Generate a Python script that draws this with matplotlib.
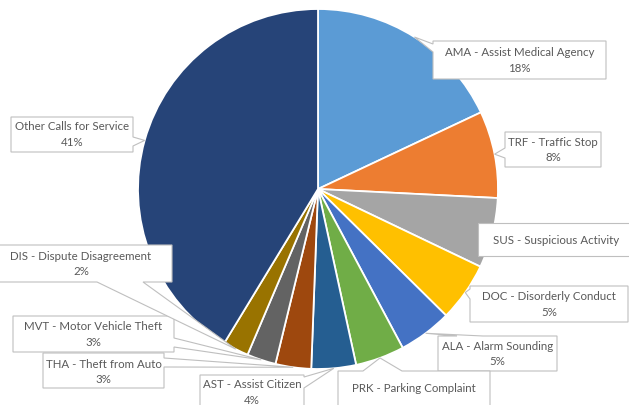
import numpy as np
import matplotlib
matplotlib.use("Agg")
import matplotlib.pyplot as plt
from matplotlib.patches import Polygon

# ---- data ----
categories = ["AMA - Assist Medical Agency", "TRF - Traffic Stop", "SUS - Suspicious Activity",
              "DOC - Disorderly Conduct", "ALA - Alarm Sounding", "PRK - Parking Complaint",
              "AST - Assist Citizen", "THA - Theft from Auto", "MVT - Motor Vehicle Theft",
              "DIS - Dispute Disagreement", "Other Calls for Service"]
values = [18.0, 7.8, 6.3, 5.3, 4.8, 4.4, 4.0, 3.2, 2.6, 2.3, 41.3]
colors = ["#5B9BD5", "#ED7D31", "#A5A5A5", "#FFC000", "#4472C4", "#70AD47",
          "#255E91", "#9E480E", "#636363", "#997300", "#264478"]

W, H = 629, 405
fig = plt.figure(figsize=(W / 100, H / 100), dpi=100)
ax = fig.add_axes([0, 0, 1, 1])

cx, cy, R = 318, 189, 180  # pixel coords (y from top)
ax.pie(values, colors=colors, startangle=90, counterclock=False,
       center=(cx, H - cy), radius=R, frame=True,
       wedgeprops=dict(edgecolor="white", linewidth=1.3))
ax.set_xlim(0, W)
ax.set_ylim(0, H)
ax.axis("off")

total = sum(values)
cum = np.cumsum([0] + values)
def apex(i):
    frac = (cum[i] + values[i] / 2) / total
    a = np.deg2rad(frac * 360)
    return cx + R * np.sin(a), cy - R * np.cos(a)

# label layout: box (x0, y0, x1, y1) in pixels from top, wedge side, wedge base, first-line y
layout = [
    ((433, 41, 606, 79), "left", (44, 52), 53),
    ((505, 132, 601, 167), "left", (148, 158), 142),
    ((478, 223, 640, 256), None, None, 240),
    ((470, 286, 628, 322), "left", (289, 299), 297),
    ((438, 336, 557, 371), "top", (457, 483), 346),
    ((338, 371, 490, 420), "top", (363, 402), 389),
    ((200, 375, 304, 420), "right", (377, 388), 385),
    ((43, 353, 164, 388), "right", (358, 367), 364),
    ((13, 316, 174, 352), "right", (338, 347), 327),
    ((-10, 245, 172, 282), "bottom", (97, 143), 256),
    ((11, 117, 133, 152), "right", (137, 146), 127),
]
# labels whose percentage line is not visible in the frame
no_pct = {2, 5}

def poly(box, side, base, ap):
    x0, y0, x1, y1 = box
    if side == "left":
        v = [(x0, y0), (x1, y0), (x1, y1), (x0, y1), (x0, base[1]), ap, (x0, base[0])]
    elif side == "right":
        v = [(x0, y0), (x1, y0), (x1, base[0]), ap, (x1, base[1]), (x1, y1), (x0, y1)]
    elif side == "top":
        v = [(x0, y0), (base[0], y0), ap, (base[1], y0), (x1, y0), (x1, y1), (x0, y1)]
    elif side == "bottom":
        v = [(x0, y0), (x1, y0), (x1, y1), (base[1], y1), ap, (base[0], y1), (x0, y1)]
    else:
        v = [(x0, y0), (x1, y0), (x1, y1), (x0, y1)]
    return [(x, H - y) for x, y in v]

fnt = dict(family="Lato", fontsize=8.3, color="#595959")
for i, (box, side, base, ty) in enumerate(layout):
    ap = apex(i)
    ax.add_patch(Polygon(poly(box, side, base, ap), closed=True, facecolor="white",
                         edgecolor="#BFBFBF", linewidth=0.8, zorder=5))
    x0, y0, x1, y1 = box
    if i == 2:
        ax.text(493, H - ty, categories[i], ha="left", va="center", zorder=6, **fnt)
        continue
    xc = (x0 + x1) / 2
    ax.text(xc, H - ty, categories[i], ha="center", va="center", zorder=6, **fnt)
    if i not in no_pct:
        pct = f"{values[i] / total:.0%}"
        ax.text(xc, H - (ty + 15.5), pct, ha="center", va="center", zorder=6, **fnt)

fig.savefig("out.png", dpi=100)
